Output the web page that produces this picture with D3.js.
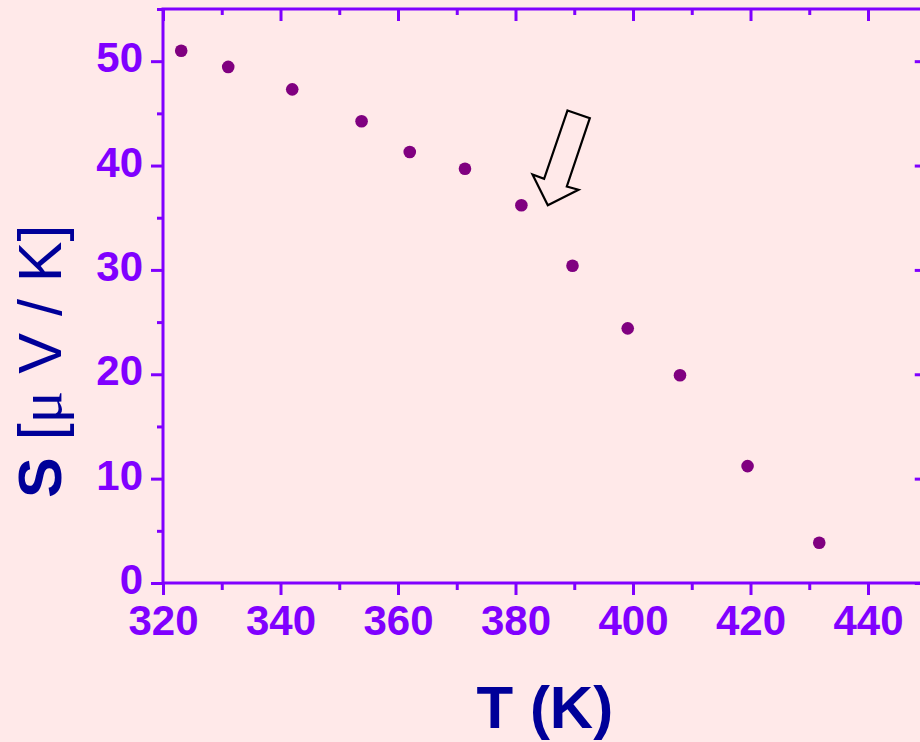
<!DOCTYPE html>
<html>
<head>
<meta charset="utf-8">
<script src="https://cdn.jsdelivr.net/npm/d3@7"></script>
<style>
  html, body { margin: 0; padding: 0; background: #ffe9e9; overflow: hidden; }
  svg { display: block; }
</style>
</head>
<body>
<svg id="chart" width="920" height="742"></svg>
<script>
// ---- data ----
const temperatures = [323.1, 331.1, 342.0, 353.8, 362.0, 371.4, 381.0, 389.7, 399.1, 408.0, 419.5, 431.7];
const seebeck      = [51.0, 49.45, 47.3, 44.25, 41.3, 39.7, 36.2, 30.4, 24.4, 19.9, 11.2, 3.86];
const xMajorTicks = [320, 340, 360, 380, 400, 420, 440];
const xMinorTicks = [330, 350, 370, 390, 410, 430, 450];
const yMajorTicks = [0, 10, 20, 30, 40, 50];
const yMinorTicks = [5, 15, 25, 35, 45, 55];
const xDomain = [320, 450];
const yDomain = [0, 55];
const arrowTip = [385.5, 36.2];
const xTitle = "T (K)";

(function () {
// ---- layout ----
const svg = d3.select("#chart");
const mLeft = 163, mTop = 9, mBottom = 583;
const mRight = mLeft + (xDomain[1] - xDomain[0]) * 5.875;
const axisColor = "#8000ff";
const labelFont = "'Liberation Sans', Arial, sans-serif";

svg.append("rect").attr("width", 920).attr("height", 742).attr("fill", "#ffe9e9");

const x = d3.scaleLinear().domain(xDomain).range([mLeft, mRight]);
const y = d3.scaleLinear().domain(yDomain).range([mBottom, mTop]);

function styleAxis(g, withLabels) {
  g.select(".domain").remove();
  g.selectAll(".tick line").attr("stroke", axisColor).attr("stroke-width", 3);
  if (withLabels) {
    g.selectAll(".tick text")
      .attr("fill", axisColor)
      .style("font-family", labelFont)
      .style("font-weight", "bold")
      .style("font-size", "42px");
  } else {
    g.selectAll(".tick text").remove();
  }
}

// bottom
svg.append("g").attr("transform", `translate(0,${mBottom})`)
  .call(d3.axisBottom(x).tickValues(xMajorTicks).tickSize(12).tickPadding(10).tickFormat(d3.format("d")))
  .call(g => styleAxis(g, true));
svg.append("g").attr("transform", `translate(0,${mBottom})`)
  .call(d3.axisBottom(x).tickValues(xMinorTicks).tickSize(7).tickFormat(""))
  .call(g => styleAxis(g, false));
// top (inward)
svg.append("g").attr("transform", `translate(0,${mTop})`)
  .call(d3.axisBottom(x).tickValues(xMajorTicks).tickSize(12).tickFormat(""))
  .call(g => styleAxis(g, false));
svg.append("g").attr("transform", `translate(0,${mTop})`)
  .call(d3.axisBottom(x).tickValues(xMinorTicks).tickSize(6).tickFormat(""))
  .call(g => styleAxis(g, false));
// left
const leftAxis = svg.append("g").attr("transform", `translate(${mLeft},0)`)
  .call(d3.axisLeft(y).tickValues(yMajorTicks).tickSize(12).tickPadding(8).tickFormat(d3.format("d")))
  .call(g => styleAxis(g, true));
leftAxis.selectAll(".tick text").attr("dy", "0.25em");
svg.append("g").attr("transform", `translate(${mLeft},0)`)
  .call(d3.axisLeft(y).tickValues(yMinorTicks).tickSize(6).tickFormat(""))
  .call(g => styleAxis(g, false));
// right (inward)
svg.append("g").attr("transform", `translate(${mRight},0)`)
  .call(d3.axisLeft(y).tickValues(yMajorTicks).tickSize(12).tickFormat(""))
  .call(g => styleAxis(g, false));
svg.append("g").attr("transform", `translate(${mRight},0)`)
  .call(d3.axisLeft(y).tickValues(yMinorTicks).tickSize(6).tickFormat(""))
  .call(g => styleAxis(g, false));

// frame
svg.append("rect")
  .attr("x", mLeft).attr("y", mTop)
  .attr("width", mRight - mLeft).attr("height", mBottom - mTop)
  .attr("fill", "none").attr("stroke", axisColor).attr("stroke-width", 3);

// data points
svg.append("g").selectAll("circle")
  .data(temperatures.map((t, i) => ({t, s: seebeck[i]})))
  .join("circle")
  .attr("cx", d => x(d.t))
  .attr("cy", d => y(d.s))
  .attr("r", 6.3)
  .attr("fill", "#800080");

// arrow annotation (outline)
const tx = x(arrowTip[0]), ty = y(arrowTip[1]);
const arrowShape = [[19.7, -94.7], [42, -87], [19, -18.7], [30.7, -15.4], [0, 0], [-15.3, -30.7], [-3.7, -26.4]];
svg.append("path")
  .attr("d", d3.line()(arrowShape.map(p => [tx + p[0], ty + p[1]])) + "Z")
  .attr("fill", "none").attr("stroke", "#000").attr("stroke-width", 2.2)
  .attr("stroke-linejoin", "miter");

// axis titles
svg.append("text")
  .attr("x", (mLeft + mRight) / 2).attr("y", 728)
  .attr("text-anchor", "middle")
  .attr("fill", "#000099")
  .style("font-family", labelFont).style("font-weight", "bold").style("font-size", "60px")
  .text(xTitle);

const yt = svg.append("text")
  .attr("transform", "translate(61,498) rotate(-90)")
  .attr("text-anchor", "start")
  .attr("fill", "#000099")
  .style("font-family", labelFont).style("font-size", "61px");
yt.append("tspan").style("font-weight", "bold").text("S");
yt.append("tspan").text(" [");
yt.append("tspan").style("font-family", "'Liberation Serif', 'Times New Roman', serif").text("\u03bc");
yt.append("tspan").text(" V / K]");
})();
</script>
</body>
</html>
